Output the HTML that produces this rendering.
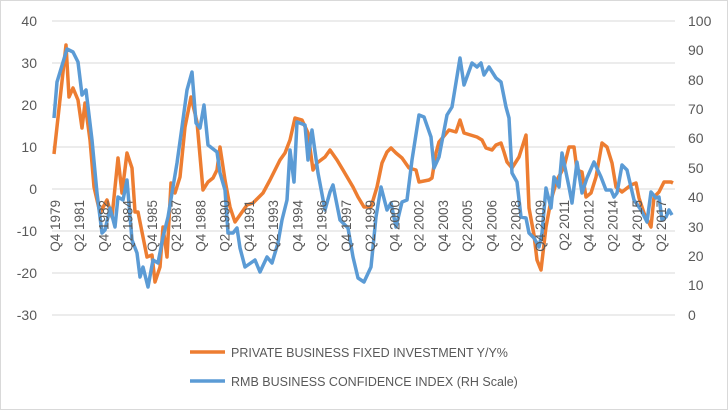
<!DOCTYPE html><html><head><style>body{margin:0;background:#fff}svg{display:block;font-family:"Liberation Sans",sans-serif}</style></head><body>
<svg width="728" height="410" viewBox="0 0 728 410">
<rect x="0.5" y="0.5" width="727" height="409" fill="#fff" stroke="#d9d9d9"/>
<g stroke="#d9d9d9" stroke-width="1">
<line x1="52" x2="675" y1="21" y2="21"/><line x1="52" x2="675" y1="63" y2="63"/><line x1="52" x2="675" y1="105" y2="105"/><line x1="52" x2="675" y1="147" y2="147"/><line x1="52" x2="675" y1="189" y2="189"/><line x1="52" x2="675" y1="231" y2="231"/><line x1="52" x2="675" y1="273" y2="273"/><line x1="52" x2="675" y1="315" y2="315"/>
</g>
<g fill="#595959" font-size="14" text-anchor="end">
<text x="37" y="26">40</text><text x="37" y="68">30</text><text x="37" y="110">20</text><text x="37" y="152">10</text><text x="37" y="194">0</text><text x="37" y="236">-10</text><text x="37" y="278">-20</text><text x="37" y="320">-30</text>
</g>
<g fill="#595959" font-size="14">
<text x="688" y="26">100</text><text x="688" y="55">90</text><text x="688" y="85">80</text><text x="688" y="114">70</text><text x="688" y="143">60</text><text x="688" y="173">50</text><text x="688" y="202">40</text><text x="688" y="232">30</text><text x="688" y="261">20</text><text x="688" y="290">10</text><text x="688" y="320">0</text>
</g>
<polyline fill="none" stroke="#ED7D31" stroke-width="3.5" stroke-linejoin="round" points="54,154 66,45 69,97 73,88 78,100 82,128 85,103 90,140 94,187 100,213 107,200 112,217 118,158 122,193 127,153 132,168 135,212 138,212 147,257 152,255 155,282 160,267 163,227 167,257 171,183 175,193 180,177 185,127 191,97 197,122 203,190 208,182 213,178 217,170 220,147 225,180 230,207 235,222 247,205 253,203 263,193 270,180 275,170 280,160 285,153 290,140 295,118 302,120 308,133 313,170 317,163 325,157 330,150 337,160 343,170 353,187 358,197 364,207 371,207 377,187 382,163 387,152 391,148 396,153 402,158 409,168 416,170 419,182 429,180 432,178 436,153 439,142 449,130 456,132 460,120 464,133 477,137 482,140 486,148 492,150 496,145 501,143 504,152 507,162 512,168 519,157 526,135 529,208 534,235 537,260 541,270 546,227 551,200 557,180 564,167 569,147 574,147 577,170 582,172 586,197 591,193 596,177 602,143 607,147 612,163 616,187 622,192 631,185 636,183 639,198 644,213 651,227 654,197 659,192 664,182 671,182 673,183"/>
<polyline fill="none" stroke="#5B9BD5" stroke-width="3.5" stroke-linejoin="round" points="54,118 57,82 67,49 73,52 78,62 82,95 86,90 92,140 97,193 102,233 105,230 110,208 115,227 118,197 123,200 127,180 132,240 137,253 140,277 143,267 148,287 153,260 158,263 163,237 168,217 177,163 182,127 187,90 192,72 196,123 200,128 204,105 208,145 217,152 220,173 225,190 228,233 233,233 237,228 240,248 245,267 255,260 260,272 267,257 272,263 278,243 282,220 287,200 290,150 294,182 297,122 305,125 308,160 312,130 318,173 325,210 330,192 333,185 340,220 348,228 353,257 358,278 364,282 371,267 376,217 381,187 387,210 391,203 396,227 402,202 407,200 412,160 419,115 424,117 431,137 434,168 439,157 447,115 452,107 460,58 464,85 472,63 477,67 481,63 484,75 489,67 496,78 501,82 506,107 509,118 512,173 517,182 521,217 526,218 529,233 534,238 539,247 542,233 546,188 551,208 554,177 559,187 562,153 569,187 572,203 577,162 582,193 587,178 594,162 601,177 606,190 611,190 614,197 617,193 622,165 627,170 634,200 641,210 647,222 651,192 656,198 659,197 662,220 666,217 669,210 672,215"/>
<g fill="#595959" font-size="13.5">
<text transform="translate(60,200) rotate(-90)" text-anchor="end">Q4 1979</text>
<text transform="translate(84.24,200) rotate(-90)" text-anchor="end">Q2 1981</text>
<text transform="translate(108.48,200) rotate(-90)" text-anchor="end">Q4 1982</text>
<text transform="translate(132.72,200) rotate(-90)" text-anchor="end">Q2 1984</text>
<text transform="translate(156.96,200) rotate(-90)" text-anchor="end">Q4 1985</text>
<text transform="translate(181.2,200) rotate(-90)" text-anchor="end">Q2 1987</text>
<text transform="translate(205.44,200) rotate(-90)" text-anchor="end">Q4 1988</text>
<text transform="translate(229.68,200) rotate(-90)" text-anchor="end">Q2 1990</text>
<text transform="translate(253.92,200) rotate(-90)" text-anchor="end">Q4 1991</text>
<text transform="translate(278.16,200) rotate(-90)" text-anchor="end">Q2 1993</text>
<text transform="translate(302.4,200) rotate(-90)" text-anchor="end">Q4 1994</text>
<text transform="translate(326.64,200) rotate(-90)" text-anchor="end">Q2 1996</text>
<text transform="translate(350.88,200) rotate(-90)" text-anchor="end">Q4 1997</text>
<text transform="translate(375.12,200) rotate(-90)" text-anchor="end">Q2 1999</text>
<text transform="translate(399.36,200) rotate(-90)" text-anchor="end">Q4 2000</text>
<text transform="translate(423.6,200) rotate(-90)" text-anchor="end">Q2 2002</text>
<text transform="translate(447.84,200) rotate(-90)" text-anchor="end">Q4 2003</text>
<text transform="translate(472.08,200) rotate(-90)" text-anchor="end">Q2 2005</text>
<text transform="translate(496.32,200) rotate(-90)" text-anchor="end">Q4 2006</text>
<text transform="translate(520.56,200) rotate(-90)" text-anchor="end">Q2 2008</text>
<text transform="translate(544.8,200) rotate(-90)" text-anchor="end">Q4 2009</text>
<text transform="translate(569.04,200) rotate(-90)" text-anchor="end">Q2 2011</text>
<text transform="translate(593.28,200) rotate(-90)" text-anchor="end">Q4 2012</text>
<text transform="translate(617.52,200) rotate(-90)" text-anchor="end">Q2 2014</text>
<text transform="translate(641.76,200) rotate(-90)" text-anchor="end">Q4 2015</text>
<text transform="translate(666,200) rotate(-90)" text-anchor="end">Q2 2017</text>
</g>
<line x1="190" x2="225" y1="352" y2="352" stroke="#ED7D31" stroke-width="3.5"/>
<line x1="190" x2="225" y1="381" y2="381" stroke="#5B9BD5" stroke-width="3.5"/>
<g fill="#595959" font-size="12.5">
<text x="231" y="357">PRIVATE BUSINESS FIXED INVESTMENT Y/Y%</text>
<text x="231" y="386">RMB BUSINESS CONFIDENCE INDEX (RH Scale)</text>
</g>
</svg></body></html>
